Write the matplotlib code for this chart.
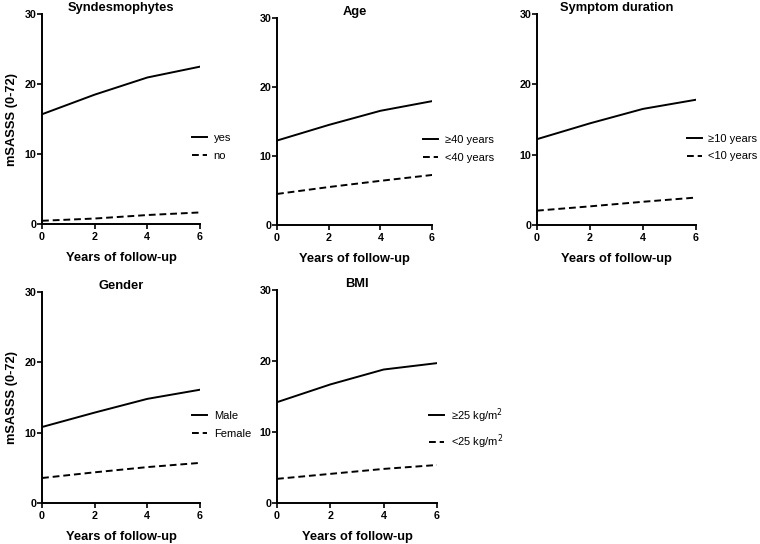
import numpy as np
import matplotlib
matplotlib.use('Agg')
import matplotlib.pyplot as plt

plt.rcParams['font.family'] = ['Liberation Sans', 'DejaVu Sans']

# 随访年份
years = [0, 2, 4, 6]

# 每个亚组的 mSASSS 估计值
synd_yes = [15.7, 18.5, 20.95, 22.5]
synd_no = [0.48, 0.8, 1.3, 1.67]
age_old = [12.24, 14.5, 16.55, 17.95]
age_young = [4.5, 5.5, 6.4, 7.25]
dur_long = [12.2, 14.45, 16.5, 17.8]
dur_short = [2.04, 2.65, 3.3, 3.9]
male = [10.8, 12.85, 14.8, 16.1]
female = [3.55, 4.36, 5.1, 5.7]
bmi_high = [14.2, 16.7, 18.8, 19.7]
bmi_low = [3.4, 4.1, 4.8, 5.35]

titles = ['Syndesmophytes', 'Age', 'Symptom duration', 'Gender', 'BMI']
labels = [('yes', 'no'),
          ('≥40 years', '<40 years'),
          ('≥10 years', '<10 years'),
          ('Male', 'Female'),
          ('≥25 kg/m$^2$', '<25 kg/m$^2$')]
series = [(synd_yes, synd_no), (age_old, age_young), (dur_long, dur_short),
          (male, female), (bmi_high, bmi_low)]

fig = plt.figure(figsize=(7.6, 5.44), dpi=100)

# 每个子图的位置 (left, bottom, width, height)
rects = [(0.0553, 0.588, 0.2079, 0.386),
         (0.3645, 0.5864, 0.204, 0.3805),
         (0.7066, 0.5864, 0.209, 0.388),
         (0.0553, 0.0754, 0.2079, 0.388),
         (0.3645, 0.0754, 0.2105, 0.3915)]
# 图例位置 (轴坐标)
leg_pos = [(0.949, 0.369), (0.942, 0.367), (0.943, 0.367), (0.949, 0.37), (0.95, 0.35)]

for i in range(5):
    ax = fig.add_axes(rects[i])
    hi, lo = series[i]
    ax.plot(years, hi, color='black', lw=1.4, label=labels[i][0])
    ax.plot(years, lo, color='black', lw=1.4, ls=(0, (3.5, 2)), label=labels[i][1])
    ax.set_xlim(0, 6)
    ax.set_ylim(0, 30)
    ax.set_xticks([0, 2, 4, 6])
    ax.set_yticks([0, 10, 20, 30])
    for s in ['top', 'right']:
        ax.spines[s].set_visible(False)
    for s in ['left', 'bottom']:
        ax.spines[s].set_linewidth(1.4)
    ax.tick_params(direction='out', length=3.5, width=1.2, labelsize=7.7)
    ax.tick_params(axis='x', pad=2)
    ax.tick_params(axis='y', pad=0.5)
    for t in ax.get_xticklabels() + ax.get_yticklabels():
        t.set_fontweight('bold')
    ax.set_title(titles[i], fontsize=9.3, fontweight='bold', pad=2)
    ax.set_xlabel('Years of follow-up', fontsize=9.3, fontweight='bold', labelpad=7.5)
    if i in (0, 3):
        ax.set_ylabel('mSASSS (0-72)', fontsize=9.3, fontweight='bold', labelpad=5)
    ax.legend(loc='center left', bbox_to_anchor=leg_pos[i], frameon=False,
              fontsize=8, handlelength=1.35, handletextpad=0.6, labelspacing=0.7,
              borderaxespad=0, borderpad=0)

fig.savefig('out.png', dpi=100)
